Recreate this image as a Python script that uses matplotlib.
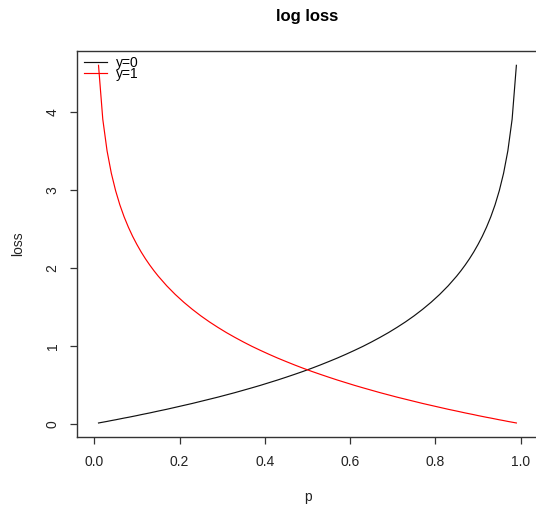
import matplotlib
matplotlib.use("Agg")
import matplotlib.pyplot as plt

plt.rcParams['font.family'] = ['Liberation Sans', 'DejaVu Sans']

# probability grid
p = [0.01, 0.02, 0.03, 0.04, 0.05, 0.06, 0.07, 0.08, 0.09, 0.10,
     0.11, 0.12, 0.13, 0.14, 0.15,
     0.17, 0.19, 0.21, 0.23, 0.25, 0.27, 0.29, 0.31, 0.33, 0.35,
     0.37, 0.39, 0.41, 0.43, 0.45, 0.47, 0.49, 0.51, 0.53, 0.55,
     0.57, 0.59, 0.61, 0.63, 0.65, 0.67, 0.69, 0.71, 0.73, 0.75,
     0.77, 0.79, 0.81, 0.83,
     0.85, 0.86, 0.87, 0.88, 0.89, 0.90, 0.91, 0.92, 0.93, 0.94,
     0.95, 0.96, 0.97, 0.98, 0.99]

# loss when the true label is 0
loss_y0 = [0.010, 0.020, 0.030, 0.041, 0.051, 0.062, 0.073, 0.083, 0.094, 0.105,
           0.117, 0.128, 0.139, 0.151, 0.163,
           0.186, 0.211, 0.236, 0.261, 0.288, 0.315, 0.342, 0.371, 0.400, 0.431,
           0.462, 0.494, 0.528, 0.562, 0.598, 0.635, 0.673, 0.713, 0.755, 0.799,
           0.844, 0.892, 0.942, 0.994, 1.050, 1.109, 1.171, 1.238, 1.309, 1.386,
           1.470, 1.561, 1.661, 1.772,
           1.897, 1.966, 2.040, 2.120, 2.207, 2.303, 2.408, 2.526, 2.659, 2.813,
           2.996, 3.219, 3.507, 3.912, 4.605]

# loss when the true label is 1
loss_y1 = [4.605, 3.912, 3.507, 3.219, 2.996, 2.813, 2.659, 2.526, 2.408, 2.303,
           2.207, 2.120, 2.040, 1.966, 1.897,
           1.772, 1.661, 1.561, 1.470, 1.386, 1.309, 1.238, 1.171, 1.109, 1.050,
           0.994, 0.942, 0.892, 0.844, 0.799, 0.755, 0.713, 0.673, 0.635, 0.598,
           0.562, 0.528, 0.494, 0.462, 0.431, 0.400, 0.371, 0.342, 0.315, 0.288,
           0.261, 0.236, 0.211, 0.186,
           0.163, 0.151, 0.139, 0.128, 0.117, 0.105, 0.094, 0.083, 0.073, 0.062,
           0.051, 0.041, 0.030, 0.020, 0.010]

series_labels = ["y=0", "y=1"]
x_ticks = [0.0, 0.2, 0.4, 0.6, 0.8, 1.0]
y_ticks = [0, 1, 2, 3, 4]

W, H = 536, 505
fig = plt.figure(figsize=(W / 100, H / 100), dpi=100)
fig.patch.set_facecolor("white")

left, right, top, bottom = 77.2, 537.7, 51.0, 437.3
ax = fig.add_axes([left / W, 1 - bottom / H, (right - left) / W, (bottom - top) / H])

lw = 0.85
l0, = ax.plot(p, loss_y0, color="#111111", lw=lw)
l1, = ax.plot(p, loss_y1, color="#ff0000", lw=lw)

ax.set_xlim(-0.04, 1.04)
ax.set_ylim(-0.174, 4.789)
ax.set_xticks(x_ticks)
ax.set_xticklabels([f"{v:.1f}" for v in x_ticks])
ax.set_yticks(y_ticks)
ax.set_yticklabels([str(v) for v in y_ticks])

for s in ax.spines.values():
    s.set_linewidth(1.0)
    s.set_color("#333333")

fs = 10.0
ax.tick_params(axis="both", direction="out", length=5.2, width=0.9,
               color="#333333", labelsize=fs, labelcolor="#222222")
ax.tick_params(axis="x", pad=7.8)
ax.tick_params(axis="y", pad=7.5, labelrotation=90)
for t in ax.get_yticklabels():
    t.set_verticalalignment("center")

leg = ax.legend([l0, l1], series_labels, loc="upper left",
                bbox_to_anchor=(84 / W, 1 - 56 / H), bbox_transform=fig.transFigure,
                frameon=False, fontsize=fs, handlelength=1.65, handletextpad=0.62,
                labelspacing=-0.22, borderpad=0, borderaxespad=0)

fig.text(307.5 / W, 1 - 17 / H, "log loss", ha="center", va="center",
         fontsize=12, fontweight="bold")
fig.text(18.3 / W, 1 - 244 / H, "loss", ha="center", va="center",
         rotation=90, fontsize=fs, color="#222222")
fig.text(307.5 / W, 1 - 497 / H, "p", ha="center", va="center",
         fontsize=fs, color="#222222")

fig.savefig("out.png", dpi=100)
